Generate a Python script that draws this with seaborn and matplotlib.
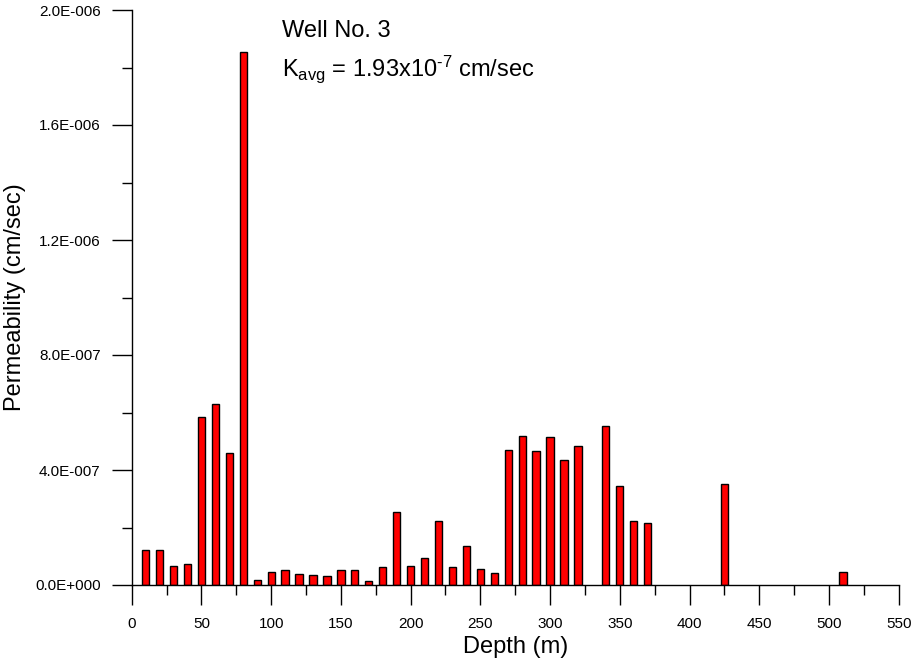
import matplotlib
matplotlib.use("Agg")
import matplotlib.pyplot as plt
from matplotlib.ticker import MultipleLocator, FixedLocator, FixedFormatter
import numpy as np
import seaborn as sns
import pandas as pd

# data
depth = [10, 20, 30, 40, 50, 60, 70, 80, 90, 100, 110, 120, 130, 140, 150, 160, 170, 180,
         190, 200, 210, 220, 230, 240, 250, 260, 270, 280, 290, 300, 310, 320, 340, 350,
         360, 370, 425, 510]
perm_e7 = [1.21, 1.21, 0.66, 0.72, 5.84, 6.30, 4.59, 18.53, 0.16, 0.45, 0.52, 0.38, 0.35,
           0.31, 0.52, 0.52, 0.14, 0.63, 2.53, 0.66, 0.94, 2.23, 0.63, 1.36, 0.56, 0.42,
           4.70, 5.18, 4.66, 5.15, 4.35, 4.83, 5.53, 3.44, 2.23, 2.16, 3.50, 0.44]
y_ticks = [0.0, 4e-7, 8e-7, 1.2e-6, 1.6e-6, 2.0e-6]
y_tick_labels = ["0.0E+000", "4.0E-007", "8.0E-007", "1.2E-006", "1.6E-006", "2.0E-006"]
x_ticks = [0, 50, 100, 150, 200, 250, 300, 350, 400, 450, 500, 550]

df = pd.DataFrame({"depth": depth, "perm": np.array(perm_e7) * 1e-7})

sns.set_theme(style="ticks")
plt.rcParams["font.family"] = ["Liberation Sans", "DejaVu Sans"]
plt.rcParams["mathtext.fontset"] = "custom"
plt.rcParams["mathtext.rm"] = "Liberation Sans"
plt.rcParams["mathtext.default"] = "rm"

fig = plt.figure(figsize=(9.13, 6.6), dpi=100)
ax = fig.add_axes([131.7 / 913, (660 - 585) / 660, 767 / 913, 575 / 660])

sns.barplot(data=df, x="depth", y="perm", native_scale=True, width=0.52,
            color="#ff0000", saturation=1, edgecolor="black", linewidth=1.0,
            errorbar=None, ax=ax)

ax.set_xlim(0, 550)
ax.set_ylim(0, 2e-6)
ax.xaxis.set_major_locator(FixedLocator(x_ticks))
ax.xaxis.set_minor_locator(MultipleLocator(25))
ax.yaxis.set_major_locator(FixedLocator(y_ticks))
ax.yaxis.set_major_formatter(FixedFormatter(y_tick_labels))
ax.yaxis.set_minor_locator(MultipleLocator(2e-7))

for s in ["top", "right"]:
    ax.spines[s].set_visible(False)
for s in ["left", "bottom"]:
    ax.spines[s].set_color("black")
    ax.spines[s].set_linewidth(1.0)

ax.tick_params(axis="both", which="major", length=14.4, width=1.0, color="black",
               labelsize=11, labelcolor="black", direction="out")
ax.tick_params(axis="both", which="minor", length=7.2, width=1.0, color="black",
               direction="out")
ax.tick_params(axis="x", which="major", pad=9)
ax.tick_params(axis="y", which="major", pad=8)

ax.set_xlabel("Depth (m)", fontsize=17, color="black")
ax.set_ylabel("Permeability (cm/sec)", fontsize=17, color="black")
ax.xaxis.label.set_va("center")
ax.yaxis.label.set_va("center")
ax.xaxis.set_label_coords(0.5, -0.108)
ax.yaxis.set_label_coords(-0.152, 0.5)

ax.text(0.1965, 0.953, "Well No. 3", transform=ax.transAxes, fontsize=17,
        va="baseline", ha="left", color="black")
ax.text(0.1965, 0.885, r"K$_{avg}$ = 1.93x10$^{\text{-7}}$ cm/sec", transform=ax.transAxes,
        fontsize=17, va="baseline", ha="left", color="black")

fig.savefig("out.png", dpi=100, facecolor="white")
